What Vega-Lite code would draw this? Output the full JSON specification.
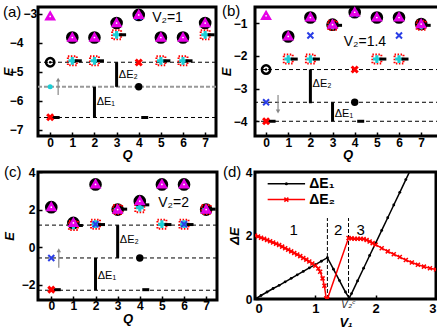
{
"$schema":"https://vega.github.io/schema/vega-lite/v6.json",
"background":"white",
"padding":{"left":0,"top":2,"right":0,"bottom":0},
"bounds":"flush",
"columns":2,
"spacing":{"row":36,"column":38},
"config":{
 "view":{"stroke":"black","strokeWidth":3},
 "point":{"opacity":1},
 "axis":{"domain":false,"grid":false,"labelOverlap":false,"tickColor":"black","tickSize":-4,"tickWidth":1.5,"labelFont":"Liberation Sans","labelFontWeight":"bold","labelFontSize":12,"labelColor":"black","titleFont":"Liberation Sans","titleFontWeight":"bold","titleFontStyle":"italic","titleFontSize":13,"titleColor":"black"},
 "text":{"font":"Liberation Sans","color":"black"},
 "title":{"font":"Liberation Sans","fontWeight":"normal","fontSize":15,"color":"black","offset":0}
},
"datasets":{
"a":[
{"k":"line","E":-4.67},{"k":"gline","E":-5.52},{"k":"line","E":-6.58},
{"k":"bar","Q":2,"E":-6.58,"E2":-5.52},{"k":"bar","Q":3,"E":-5.52,"E2":-4.67},
{"k":"arrow","Q":0.36,"E":-5.8,"E2":-5.3},{"k":"up","Q":0.36,"E":-5.27},
{"k":"lab","Q":2.1,"E":-6.05,"t":"ΔE₁"},{"k":"lab","Q":3.1,"E":-5.1,"t":"ΔE₂"},
{"k":"vt","Q":5.3,"E":-3.15,"t":"V₂=1"},
{"k":"circ","Q":1,"E":-3.78},{"k":"circ","Q":2,"E":-3.78},{"k":"circ","Q":3,"E":-3.28},{"k":"circ","Q":4,"E":-3.0},{"k":"circ","Q":5,"E":-3.78},{"k":"circ","Q":6,"E":-3.78},{"k":"circ","Q":7,"E":-3.28},
{"k":"tri","Q":0,"E":-3.05},{"k":"tri","Q":1,"E":-3.78},{"k":"tri","Q":2,"E":-3.78},{"k":"tri","Q":3,"E":-3.28},{"k":"tri","Q":4,"E":-3.0},{"k":"tri","Q":5,"E":-3.78},{"k":"tri","Q":6,"E":-3.78},{"k":"tri","Q":7,"E":-3.28},
{"k":"ocirc","Q":0,"E":-4.67},
{"k":"pc","Q":1,"E":-4.62},{"k":"pc","Q":2,"E":-4.62},{"k":"pc","Q":5,"E":-4.62},{"k":"pc","Q":6,"E":-4.62},{"k":"pc","Q":3,"E":-3.72},{"k":"pc","Q":7,"E":-3.72},
{"k":"dash","Q":0,"E":-6.58},{"k":"dash","Q":4,"E":-6.58},{"k":"dash","Q":1,"E":-4.62},{"k":"dash","Q":2,"E":-4.62},{"k":"dash","Q":5,"E":-4.62},{"k":"dash","Q":6,"E":-4.62},{"k":"dash","Q":3,"E":-3.72},{"k":"dash","Q":7,"E":-3.72},
{"k":"rx","Q":0,"E":-6.57},{"k":"rx","Q":4,"E":-4.68},
{"k":"bx","Q":4,"E":-3.1},
{"k":"bdot","Q":4,"E":-5.52},
{"k":"cdot","Q":0,"E":-5.52}
],
"b":[
{"k":"line","E":-2.42},{"k":"line","E":-3.42},{"k":"line","E":-4.0},
{"k":"bar","Q":2,"E":-3.45,"E2":-2.42},{"k":"bar","Q":3,"E":-4.0,"E2":-3.42},
{"k":"arrow","Q":0.54,"E":-3.2,"E2":-3.68},{"k":"down","Q":0.54,"E":-3.7},
{"k":"lab","Q":2.1,"E":-2.85,"t":"ΔE₂"},{"k":"lab","Q":3.1,"E":-3.78,"t":"ΔE₁"},
{"k":"vt","Q":4.46,"E":-1.59,"t":"V₂=1.4"},
{"k":"circ","Q":1,"E":-1.38},{"k":"circ","Q":2,"E":-0.8},{"k":"circ","Q":3,"E":-1.02},{"k":"circ","Q":4,"E":-0.64},{"k":"circ","Q":5,"E":-0.8},{"k":"circ","Q":6,"E":-0.8},{"k":"circ","Q":7,"E":-1.0},
{"k":"pc","Q":1,"E":-2.1},{"k":"pc","Q":2,"E":-2.1},{"k":"pc","Q":5,"E":-2.1},{"k":"pc","Q":6,"E":-2.1},{"k":"pc","Q":3,"E":-1.07},{"k":"pc","Q":7,"E":-1.07},
{"k":"dash","Q":1,"E":-2.1},{"k":"dash","Q":2,"E":-2.1},{"k":"dash","Q":5,"E":-2.1},{"k":"dash","Q":6,"E":-2.1},{"k":"dash","Q":3,"E":-1.07},{"k":"dash","Q":7,"E":-1.07},{"k":"dash","Q":0,"E":-4.0},{"k":"dash","Q":4,"E":-4.0},
{"k":"ocirc","Q":0,"E":-2.42},
{"k":"rx","Q":0,"E":-4.0},{"k":"rx","Q":4,"E":-2.42},
{"k":"bx","Q":0,"E":-3.42},{"k":"bx","Q":2,"E":-1.38},{"k":"bx","Q":6,"E":-1.38},{"k":"bx","Q":4,"E":-0.72},
{"k":"tri","Q":0,"E":-0.75},{"k":"tri","Q":1,"E":-1.38},{"k":"tri","Q":2,"E":-0.8},{"k":"tri","Q":3,"E":-1.02},{"k":"tri","Q":4,"E":-0.64},{"k":"tri","Q":5,"E":-0.8},{"k":"tri","Q":6,"E":-0.8},{"k":"tri","Q":7,"E":-1.0},
{"k":"bdot","Q":4,"E":-3.42}
],
"c":[
{"k":"line","E":1.17},{"k":"line","E":-0.58},{"k":"line","E":-2.3},
{"k":"bar","Q":2,"E":-2.3,"E2":-0.58},{"k":"bar","Q":3,"E":-0.58,"E2":1.17},
{"k":"arrow","Q":0.34,"E":-1.1,"E2":-0.2},{"k":"up","Q":0.34,"E":-0.17},
{"k":"lab","Q":3.1,"E":0.4,"t":"ΔE₂"},{"k":"lab","Q":2.1,"E":-1.55,"t":"ΔE₁"},
{"k":"vt","Q":5.53,"E":2.36,"t":"V₂=2"},
{"k":"circ","Q":0,"E":2.18},{"k":"circ","Q":1,"E":1.34},{"k":"circ","Q":2,"E":3.39},{"k":"circ","Q":3,"E":2.05},{"k":"circ","Q":4,"E":2.5},{"k":"circ","Q":5,"E":3.39},{"k":"circ","Q":6,"E":3.39},{"k":"circ","Q":7,"E":2.05},
{"k":"pc","Q":1,"E":1.15},{"k":"pc","Q":2,"E":1.22},{"k":"pc","Q":4,"E":2.1},{"k":"pc","Q":5,"E":1.22},{"k":"pc","Q":6,"E":1.22},{"k":"pc","Q":3,"E":2.0},{"k":"pc","Q":7,"E":2.0},
{"k":"dash","Q":1,"E":1.15},{"k":"dash","Q":2,"E":1.2},{"k":"dash","Q":5,"E":1.2},{"k":"dash","Q":6,"E":1.2},{"k":"dash","Q":3,"E":2.02},{"k":"dash","Q":7,"E":2.02},{"k":"dash","Q":0,"E":-2.27},{"k":"dash","Q":4,"E":-2.27},{"k":"dash","Q":4,"E":2.25},
{"k":"rx","Q":0,"E":-2.27},
{"k":"bx","Q":0,"E":-0.58},{"k":"bx","Q":2,"E":1.22},{"k":"bx","Q":6,"E":1.22},
{"k":"tri","Q":0,"E":2.18},{"k":"tri","Q":1,"E":1.34},{"k":"tri","Q":2,"E":3.39},{"k":"tri","Q":3,"E":2.05},{"k":"tri","Q":4,"E":2.5},{"k":"tri","Q":5,"E":3.39},{"k":"tri","Q":6,"E":3.39},{"k":"tri","Q":7,"E":2.05},
{"k":"bdot","Q":4,"E":-0.58}
],
"d":[
{"s":"ΔE₁","V":0,"D":0},{"s":"ΔE₁","V":0.1,"D":0.11},{"s":"ΔE₁","V":0.2,"D":0.22},{"s":"ΔE₁","V":0.3,"D":0.33},{"s":"ΔE₁","V":0.4,"D":0.43},{"s":"ΔE₁","V":0.5,"D":0.54},{"s":"ΔE₁","V":0.6,"D":0.65},{"s":"ΔE₁","V":0.7,"D":0.76},{"s":"ΔE₁","V":0.8,"D":0.87},{"s":"ΔE₁","V":0.9,"D":0.98},{"s":"ΔE₁","V":1.0,"D":1.08},{"s":"ΔE₁","V":1.1,"D":1.19},{"s":"ΔE₁","V":1.2,"D":1.3},{"s":"ΔE₁","V":1.3,"D":0.94},{"s":"ΔE₁","V":1.4,"D":0.58},{"s":"ΔE₁","V":1.5,"D":0.22},{"s":"ΔE₁","V":1.56,"D":0.03},{"s":"ΔE₁","V":1.6,"D":0.17},{"s":"ΔE₁","V":1.7,"D":0.57},{"s":"ΔE₁","V":1.8,"D":0.97},{"s":"ΔE₁","V":1.9,"D":1.37},{"s":"ΔE₁","V":2.0,"D":1.76},{"s":"ΔE₁","V":2.1,"D":2.16},{"s":"ΔE₁","V":2.2,"D":2.56},{"s":"ΔE₁","V":2.3,"D":2.96},{"s":"ΔE₁","V":2.4,"D":3.36},{"s":"ΔE₁","V":2.5,"D":3.76},{"s":"ΔE₁","V":2.6,"D":4.16},
{"s":"ΔE₂","V":0,"D":2.0},{"s":"ΔE₂","V":0.05,"D":1.97},{"s":"ΔE₂","V":0.1,"D":1.93},{"s":"ΔE₂","V":0.15,"D":1.9},{"s":"ΔE₂","V":0.2,"D":1.86},{"s":"ΔE₂","V":0.25,"D":1.82},{"s":"ΔE₂","V":0.3,"D":1.78},{"s":"ΔE₂","V":0.35,"D":1.74},{"s":"ΔE₂","V":0.4,"D":1.7},{"s":"ΔE₂","V":0.45,"D":1.65},{"s":"ΔE₂","V":0.5,"D":1.6},{"s":"ΔE₂","V":0.55,"D":1.55},{"s":"ΔE₂","V":0.6,"D":1.5},{"s":"ΔE₂","V":0.65,"D":1.45},{"s":"ΔE₂","V":0.7,"D":1.4},{"s":"ΔE₂","V":0.75,"D":1.35},{"s":"ΔE₂","V":0.8,"D":1.29},{"s":"ΔE₂","V":0.85,"D":1.24},{"s":"ΔE₂","V":0.9,"D":1.18},{"s":"ΔE₂","V":0.95,"D":1.12},{"s":"ΔE₂","V":1.0,"D":1.05},{"s":"ΔE₂","V":1.05,"D":0.96},{"s":"ΔE₂","V":1.08,"D":0.86},{"s":"ΔE₂","V":1.12,"D":0.65},{"s":"ΔE₂","V":1.15,"D":0.42},{"s":"ΔE₂","V":1.18,"D":0.02},{"s":"ΔE₂","V":1.2,"D":0.0},{"s":"ΔE₂","V":1.55,"D":1.92},{"s":"ΔE₂","V":1.6,"D":1.91},{"s":"ΔE₂","V":1.65,"D":1.9},{"s":"ΔE₂","V":1.7,"D":1.9},{"s":"ΔE₂","V":1.75,"D":1.9},{"s":"ΔE₂","V":1.8,"D":1.89},{"s":"ΔE₂","V":1.85,"D":1.86},{"s":"ΔE₂","V":1.9,"D":1.81},{"s":"ΔE₂","V":1.95,"D":1.76},{"s":"ΔE₂","V":2.0,"D":1.71},{"s":"ΔE₂","V":2.1,"D":1.6},{"s":"ΔE₂","V":2.2,"D":1.5},{"s":"ΔE₂","V":2.3,"D":1.41},{"s":"ΔE₂","V":2.4,"D":1.32},{"s":"ΔE₂","V":2.5,"D":1.23},{"s":"ΔE₂","V":2.6,"D":1.15},{"s":"ΔE₂","V":2.7,"D":1.08},{"s":"ΔE₂","V":2.8,"D":1.02},{"s":"ΔE₂","V":2.9,"D":0.97},{"s":"ΔE₂","V":3.0,"D":0.93}
],
"dann":[
{"k":"vl","V":1.2,"D":0,"D2":2.55},{"k":"vl","V":1.55,"D":0,"D2":2.55},
{"k":"lab","V":0.64,"D":2.16,"t":"1"},{"k":"lab","V":1.38,"D":2.16,"t":"2"},{"k":"lab","V":1.75,"D":2.16,"t":"3"},
{"k":"vc","V":1.55,"D":-0.2,"t":"V₂ᶜ"},
{"k":"leg1","V":0.21,"V2":0.83,"D":3.63},{"k":"leg2","V":0.21,"V2":0.83,"D":3.13},
{"k":"legt","V":0.9,"D":3.63,"t":"ΔE₁"},{"k":"legt","V":0.9,"D":3.13,"t":"ΔE₂"},
{"k":"legm1","V":0.52,"D":3.63},{"k":"legm2","V":0.52,"D":3.13}
]
},
"concat":[
{"width":178,"height":129,
 "title":{"text":"(a)","anchor":"start","frame":"group","dx":-35,"dy":17},
 "data":{"name":"a"},
 "encoding":{"y":{"field":"E","type":"quantitative","scale":{"domain":[-7.22,-2.76],"nice":false,"zero":false},"axis":{"values":[-7,-6,-5,-4,-3],"title":"E","labelPadding":19,"titlePadding":-6,"labelAlign":{"condition":{"test":"datum.value == -3","value":"left"},"value":"right"}}}},
 "layer":[
  {"transform":[{"filter":"datum.k=='line'"}],"mark":{"type":"rule","strokeDash":[4,3],"stroke":"black","strokeWidth":1},"encoding":{}},
  {"transform":[{"filter":"datum.k=='gline'"}],"mark":{"type":"rule","strokeDash":[4,2],"stroke":"#999","strokeWidth":2},"encoding":{}},
  {"transform":[{"filter":"datum.k=='bar'"}],"mark":{"type":"rule","stroke":"black","strokeWidth":3},"encoding":{"x":{"field":"Q","type":"quantitative","scale":{"domain":[-0.55,7.49],"nice":false,"zero":false},"axis":{"values":[0,1,2,3,4,5,6,7],"title":"Q","labelPadding":5,"titlePadding":0}},"y2":{"field":"E2"}}},
  {"transform":[{"filter":"datum.k=='arrow'"}],"mark":{"type":"rule","stroke":"#888","strokeWidth":1.2},"encoding":{"x":{"field":"Q","type":"quantitative","scale":{"domain":[-0.55,7.49],"nice":false,"zero":false},"axis":{"values":[0,1,2,3,4,5,6,7],"title":"Q","labelPadding":5,"titlePadding":0}},"y2":{"field":"E2"}}},
  {"transform":[{"filter":"datum.k=='up'"}],"mark":{"type":"point","shape":"triangle-up","filled":true,"fill":"#888","size":20},"encoding":{"x":{"field":"Q","type":"quantitative","scale":{"domain":[-0.55,7.49],"nice":false,"zero":false},"axis":{"values":[0,1,2,3,4,5,6,7],"title":"Q","labelPadding":5,"titlePadding":0}}}},
  {"transform":[{"filter":"datum.k=='lab'"}],"mark":{"type":"text","align":"left","baseline":"middle","fontSize":11},"encoding":{"x":{"field":"Q","type":"quantitative","scale":{"domain":[-0.55,7.49],"nice":false,"zero":false},"axis":{"values":[0,1,2,3,4,5,6,7],"title":"Q","labelPadding":5,"titlePadding":0}},"text":{"field":"t"}}},
  {"transform":[{"filter":"datum.k=='circ'"}],"mark":{"type":"point","shape":"circle","filled":true,"fill":"black","size":160,"yOffset":1},"encoding":{"x":{"field":"Q","type":"quantitative","scale":{"domain":[-0.55,7.49],"nice":false,"zero":false},"axis":{"values":[0,1,2,3,4,5,6,7],"title":"Q","labelPadding":5,"titlePadding":0}}}},
  {"transform":[{"filter":"datum.k=='ocirc'"}],"mark":{"type":"point","shape":"circle","filled":false,"stroke":"black","strokeWidth":2.5,"size":70},"encoding":{"x":{"field":"Q","type":"quantitative","scale":{"domain":[-0.55,7.49],"nice":false,"zero":false},"axis":{"values":[0,1,2,3,4,5,6,7],"title":"Q","labelPadding":5,"titlePadding":0}}}},
  {"transform":[{"filter":"datum.k=='ocirc'"}],"mark":{"type":"point","shape":"circle","filled":true,"fill":"black","size":6},"encoding":{"x":{"field":"Q","type":"quantitative","scale":{"domain":[-0.55,7.49],"nice":false,"zero":false},"axis":{"values":[0,1,2,3,4,5,6,7],"title":"Q","labelPadding":5,"titlePadding":0}}}},
  {"transform":[{"filter":"datum.k=='pc'"}],"mark":{"type":"point","shape":"square","filled":false,"stroke":"red","strokeWidth":2,"strokeDash":[1.5,1.5],"size":80},"encoding":{"x":{"field":"Q","type":"quantitative","scale":{"domain":[-0.55,7.49],"nice":false,"zero":false},"axis":{"values":[0,1,2,3,4,5,6,7],"title":"Q","labelPadding":5,"titlePadding":0}}}},
  {"transform":[{"filter":"datum.k=='pc'"}],"mark":{"type":"point","shape":"cross","filled":true,"fill":"#1ccfd6","size":60},"encoding":{"x":{"field":"Q","type":"quantitative","scale":{"domain":[-0.55,7.49],"nice":false,"zero":false},"axis":{"values":[0,1,2,3,4,5,6,7],"title":"Q","labelPadding":5,"titlePadding":0}}}},
  {"transform":[{"filter":"datum.k=='dash'"}],"mark":{"type":"point","shape":"M-1,0L1,0","filled":false,"stroke":"black","strokeWidth":3,"size":49,"xOffset":6},"encoding":{"x":{"field":"Q","type":"quantitative","scale":{"domain":[-0.55,7.49],"nice":false,"zero":false},"axis":{"values":[0,1,2,3,4,5,6,7],"title":"Q","labelPadding":5,"titlePadding":0}}}},
  {"transform":[{"filter":"datum.k=='rx'"}],"mark":{"type":"point","shape":"M-1,-1L1,1M1,-1L-1,1","filled":false,"stroke":"red","strokeWidth":3,"size":36},"encoding":{"x":{"field":"Q","type":"quantitative","scale":{"domain":[-0.55,7.49],"nice":false,"zero":false},"axis":{"values":[0,1,2,3,4,5,6,7],"title":"Q","labelPadding":5,"titlePadding":0}}}},
  {"transform":[{"filter":"datum.k=='bx'"}],"mark":{"type":"point","shape":"M-1,-1L1,1M1,-1L-1,1","filled":false,"stroke":"#2a3ee6","strokeWidth":2,"size":36},"encoding":{"x":{"field":"Q","type":"quantitative","scale":{"domain":[-0.55,7.49],"nice":false,"zero":false},"axis":{"values":[0,1,2,3,4,5,6,7],"title":"Q","labelPadding":5,"titlePadding":0}}}},
  {"transform":[{"filter":"datum.k=='tri'"}],"mark":{"type":"point","shape":"triangle-up","filled":true,"fill":"#e600e6","size":140},"encoding":{"x":{"field":"Q","type":"quantitative","scale":{"domain":[-0.55,7.49],"nice":false,"zero":false},"axis":{"values":[0,1,2,3,4,5,6,7],"title":"Q","labelPadding":5,"titlePadding":0}}}},
  {"transform":[{"filter":"datum.k=='tri'"}],"mark":{"type":"point","shape":"circle","filled":true,"fill":"white","size":3,"yOffset":1},"encoding":{"x":{"field":"Q","type":"quantitative","scale":{"domain":[-0.55,7.49],"nice":false,"zero":false},"axis":{"values":[0,1,2,3,4,5,6,7],"title":"Q","labelPadding":5,"titlePadding":0}}}},
  {"transform":[{"filter":"datum.k=='bdot'"}],"mark":{"type":"point","shape":"circle","filled":true,"fill":"black","size":55},"encoding":{"x":{"field":"Q","type":"quantitative","scale":{"domain":[-0.55,7.49],"nice":false,"zero":false},"axis":{"values":[0,1,2,3,4,5,6,7],"title":"Q","labelPadding":5,"titlePadding":0}}}},
  {"transform":[{"filter":"datum.k=='cdot'"}],"mark":{"type":"point","shape":"circle","filled":true,"fill":"#1ccfd6","size":25},"encoding":{"x":{"field":"Q","type":"quantitative","scale":{"domain":[-0.55,7.49],"nice":false,"zero":false},"axis":{"values":[0,1,2,3,4,5,6,7],"title":"Q","labelPadding":5,"titlePadding":0}}}},
  {"transform":[{"filter":"datum.k=='vt'"}],"mark":{"type":"text","align":"center","baseline":"middle","fontSize":14},"encoding":{"x":{"field":"Q","type":"quantitative","scale":{"domain":[-0.55,7.49],"nice":false,"zero":false},"axis":{"values":[0,1,2,3,4,5,6,7],"title":"Q","labelPadding":5,"titlePadding":0}},"text":{"field":"t"}}}
 ]},
{"width":185,"height":129,
 "title":{"text":"(b)","anchor":"start","frame":"group","dx":-33,"dy":17},
 "data":{"name":"b"},
 "encoding":{"y":{"field":"E","type":"quantitative","scale":{"domain":[-4.45,-0.51],"nice":false,"zero":false},"axis":{"values":[-4,-3,-2,-1],"title":"E","labelPadding":12,"titlePadding":0}}},
 "layer":[
  {"transform":[{"filter":"datum.k=='line'"}],"mark":{"type":"rule","strokeDash":[4,3],"stroke":"black","strokeWidth":1},"encoding":{}},
  {"transform":[{"filter":"datum.k=='bar'"}],"mark":{"type":"rule","stroke":"black","strokeWidth":3},"encoding":{"x":{"field":"Q","type":"quantitative","scale":{"domain":[-0.5,7.85],"nice":false,"zero":false},"axis":{"values":[0,1,2,3,4,5,6,7],"title":"Q","labelPadding":5,"titlePadding":0}},"y2":{"field":"E2"}}},
  {"transform":[{"filter":"datum.k=='arrow'"}],"mark":{"type":"rule","stroke":"#888","strokeWidth":1.2},"encoding":{"x":{"field":"Q","type":"quantitative","scale":{"domain":[-0.5,7.85],"nice":false,"zero":false},"axis":{"values":[0,1,2,3,4,5,6,7],"title":"Q","labelPadding":5,"titlePadding":0}},"y2":{"field":"E2"}}},
  {"transform":[{"filter":"datum.k=='down'"}],"mark":{"type":"point","shape":"triangle-down","filled":true,"fill":"#888","size":20},"encoding":{"x":{"field":"Q","type":"quantitative","scale":{"domain":[-0.5,7.85],"nice":false,"zero":false},"axis":{"values":[0,1,2,3,4,5,6,7],"title":"Q","labelPadding":5,"titlePadding":0}}}},
  {"transform":[{"filter":"datum.k=='lab'"}],"mark":{"type":"text","align":"left","baseline":"middle","fontSize":11},"encoding":{"x":{"field":"Q","type":"quantitative","scale":{"domain":[-0.5,7.85],"nice":false,"zero":false},"axis":{"values":[0,1,2,3,4,5,6,7],"title":"Q","labelPadding":5,"titlePadding":0}},"text":{"field":"t"}}},
  {"transform":[{"filter":"datum.k=='circ'"}],"mark":{"type":"point","shape":"circle","filled":true,"fill":"black","size":160,"yOffset":1},"encoding":{"x":{"field":"Q","type":"quantitative","scale":{"domain":[-0.5,7.85],"nice":false,"zero":false},"axis":{"values":[0,1,2,3,4,5,6,7],"title":"Q","labelPadding":5,"titlePadding":0}}}},
  {"transform":[{"filter":"datum.k=='ocirc'"}],"mark":{"type":"point","shape":"circle","filled":false,"stroke":"black","strokeWidth":2.5,"size":70},"encoding":{"x":{"field":"Q","type":"quantitative","scale":{"domain":[-0.5,7.85],"nice":false,"zero":false},"axis":{"values":[0,1,2,3,4,5,6,7],"title":"Q","labelPadding":5,"titlePadding":0}}}},
  {"transform":[{"filter":"datum.k=='ocirc'"}],"mark":{"type":"point","shape":"circle","filled":true,"fill":"black","size":6},"encoding":{"x":{"field":"Q","type":"quantitative","scale":{"domain":[-0.5,7.85],"nice":false,"zero":false},"axis":{"values":[0,1,2,3,4,5,6,7],"title":"Q","labelPadding":5,"titlePadding":0}}}},
  {"transform":[{"filter":"datum.k=='pc'"}],"mark":{"type":"point","shape":"square","filled":false,"stroke":"red","strokeWidth":2,"strokeDash":[1.5,1.5],"size":80},"encoding":{"x":{"field":"Q","type":"quantitative","scale":{"domain":[-0.5,7.85],"nice":false,"zero":false},"axis":{"values":[0,1,2,3,4,5,6,7],"title":"Q","labelPadding":5,"titlePadding":0}}}},
  {"transform":[{"filter":"datum.k=='pc'"}],"mark":{"type":"point","shape":"cross","filled":true,"fill":"#1ccfd6","size":60},"encoding":{"x":{"field":"Q","type":"quantitative","scale":{"domain":[-0.5,7.85],"nice":false,"zero":false},"axis":{"values":[0,1,2,3,4,5,6,7],"title":"Q","labelPadding":5,"titlePadding":0}}}},
  {"transform":[{"filter":"datum.k=='dash'"}],"mark":{"type":"point","shape":"M-1,0L1,0","filled":false,"stroke":"black","strokeWidth":3,"size":49,"xOffset":6},"encoding":{"x":{"field":"Q","type":"quantitative","scale":{"domain":[-0.5,7.85],"nice":false,"zero":false},"axis":{"values":[0,1,2,3,4,5,6,7],"title":"Q","labelPadding":5,"titlePadding":0}}}},
  {"transform":[{"filter":"datum.k=='rx'"}],"mark":{"type":"point","shape":"M-1,-1L1,1M1,-1L-1,1","filled":false,"stroke":"red","strokeWidth":3,"size":36},"encoding":{"x":{"field":"Q","type":"quantitative","scale":{"domain":[-0.5,7.85],"nice":false,"zero":false},"axis":{"values":[0,1,2,3,4,5,6,7],"title":"Q","labelPadding":5,"titlePadding":0}}}},
  {"transform":[{"filter":"datum.k=='bx'"}],"mark":{"type":"point","shape":"M-1,-1L1,1M1,-1L-1,1","filled":false,"stroke":"#2a3ee6","strokeWidth":2,"size":36},"encoding":{"x":{"field":"Q","type":"quantitative","scale":{"domain":[-0.5,7.85],"nice":false,"zero":false},"axis":{"values":[0,1,2,3,4,5,6,7],"title":"Q","labelPadding":5,"titlePadding":0}}}},
  {"transform":[{"filter":"datum.k=='tri'"}],"mark":{"type":"point","shape":"triangle-up","filled":true,"fill":"#e600e6","size":140},"encoding":{"x":{"field":"Q","type":"quantitative","scale":{"domain":[-0.5,7.85],"nice":false,"zero":false},"axis":{"values":[0,1,2,3,4,5,6,7],"title":"Q","labelPadding":5,"titlePadding":0}}}},
  {"transform":[{"filter":"datum.k=='tri'"}],"mark":{"type":"point","shape":"circle","filled":true,"fill":"white","size":3,"yOffset":1},"encoding":{"x":{"field":"Q","type":"quantitative","scale":{"domain":[-0.5,7.85],"nice":false,"zero":false},"axis":{"values":[0,1,2,3,4,5,6,7],"title":"Q","labelPadding":5,"titlePadding":0}}}},
  {"transform":[{"filter":"datum.k=='bdot'"}],"mark":{"type":"point","shape":"circle","filled":true,"fill":"black","size":55},"encoding":{"x":{"field":"Q","type":"quantitative","scale":{"domain":[-0.5,7.85],"nice":false,"zero":false},"axis":{"values":[0,1,2,3,4,5,6,7],"title":"Q","labelPadding":5,"titlePadding":0}}}},
  {"transform":[{"filter":"datum.k=='vt'"}],"mark":{"type":"text","align":"center","baseline":"middle","fontSize":14},"encoding":{"x":{"field":"Q","type":"quantitative","scale":{"domain":[-0.5,7.85],"nice":false,"zero":false},"axis":{"values":[0,1,2,3,4,5,6,7],"title":"Q","labelPadding":5,"titlePadding":0}},"text":{"field":"t"}}}
 ]},
{"width":179,"height":128,
 "title":{"text":"(c)","anchor":"start","frame":"group","dx":-34,"dy":18},
 "data":{"name":"c"},
 "encoding":{"y":{"field":"E","type":"quantitative","scale":{"domain":[-2.82,4.0],"nice":false,"zero":false},"axis":{"values":[-2,0,2,4],"title":"E","labelPadding":7,"titlePadding":5}}},
 "layer":[
  {"transform":[{"filter":"datum.k=='line'"}],"mark":{"type":"rule","strokeDash":[4,3],"stroke":"black","strokeWidth":1},"encoding":{}},
  {"transform":[{"filter":"datum.k=='bar'"}],"mark":{"type":"rule","stroke":"black","strokeWidth":3},"encoding":{"x":{"field":"Q","type":"quantitative","scale":{"domain":[-0.6,7.49],"nice":false,"zero":false},"axis":{"values":[0,1,2,3,4,5,6,7],"title":"Q","labelPadding":4,"titlePadding":1}},"y2":{"field":"E2"}}},
  {"transform":[{"filter":"datum.k=='arrow'"}],"mark":{"type":"rule","stroke":"#888","strokeWidth":1.2},"encoding":{"x":{"field":"Q","type":"quantitative","scale":{"domain":[-0.6,7.49],"nice":false,"zero":false},"axis":{"values":[0,1,2,3,4,5,6,7],"title":"Q","labelPadding":4,"titlePadding":1}},"y2":{"field":"E2"}}},
  {"transform":[{"filter":"datum.k=='up'"}],"mark":{"type":"point","shape":"triangle-up","filled":true,"fill":"#888","size":20},"encoding":{"x":{"field":"Q","type":"quantitative","scale":{"domain":[-0.6,7.49],"nice":false,"zero":false},"axis":{"values":[0,1,2,3,4,5,6,7],"title":"Q","labelPadding":4,"titlePadding":1}}}},
  {"transform":[{"filter":"datum.k=='lab'"}],"mark":{"type":"text","align":"left","baseline":"middle","fontSize":11},"encoding":{"x":{"field":"Q","type":"quantitative","scale":{"domain":[-0.6,7.49],"nice":false,"zero":false},"axis":{"values":[0,1,2,3,4,5,6,7],"title":"Q","labelPadding":4,"titlePadding":1}},"text":{"field":"t"}}},
  {"transform":[{"filter":"datum.k=='circ'"}],"mark":{"type":"point","shape":"circle","filled":true,"fill":"black","size":160,"yOffset":1},"encoding":{"x":{"field":"Q","type":"quantitative","scale":{"domain":[-0.6,7.49],"nice":false,"zero":false},"axis":{"values":[0,1,2,3,4,5,6,7],"title":"Q","labelPadding":4,"titlePadding":1}}}},
  {"transform":[{"filter":"datum.k=='pc'"}],"mark":{"type":"point","shape":"square","filled":false,"stroke":"red","strokeWidth":2,"strokeDash":[1.5,1.5],"size":80},"encoding":{"x":{"field":"Q","type":"quantitative","scale":{"domain":[-0.6,7.49],"nice":false,"zero":false},"axis":{"values":[0,1,2,3,4,5,6,7],"title":"Q","labelPadding":4,"titlePadding":1}}}},
  {"transform":[{"filter":"datum.k=='pc'"}],"mark":{"type":"point","shape":"cross","filled":true,"fill":"#1ccfd6","size":60},"encoding":{"x":{"field":"Q","type":"quantitative","scale":{"domain":[-0.6,7.49],"nice":false,"zero":false},"axis":{"values":[0,1,2,3,4,5,6,7],"title":"Q","labelPadding":4,"titlePadding":1}}}},
  {"transform":[{"filter":"datum.k=='dash'"}],"mark":{"type":"point","shape":"M-1,0L1,0","filled":false,"stroke":"black","strokeWidth":3,"size":49,"xOffset":6},"encoding":{"x":{"field":"Q","type":"quantitative","scale":{"domain":[-0.6,7.49],"nice":false,"zero":false},"axis":{"values":[0,1,2,3,4,5,6,7],"title":"Q","labelPadding":4,"titlePadding":1}}}},
  {"transform":[{"filter":"datum.k=='rx'"}],"mark":{"type":"point","shape":"M-1,-1L1,1M1,-1L-1,1","filled":false,"stroke":"red","strokeWidth":3,"size":36},"encoding":{"x":{"field":"Q","type":"quantitative","scale":{"domain":[-0.6,7.49],"nice":false,"zero":false},"axis":{"values":[0,1,2,3,4,5,6,7],"title":"Q","labelPadding":4,"titlePadding":1}}}},
  {"transform":[{"filter":"datum.k=='bx'"}],"mark":{"type":"point","shape":"M-1,-1L1,1M1,-1L-1,1","filled":false,"stroke":"#2a3ee6","strokeWidth":2,"size":36},"encoding":{"x":{"field":"Q","type":"quantitative","scale":{"domain":[-0.6,7.49],"nice":false,"zero":false},"axis":{"values":[0,1,2,3,4,5,6,7],"title":"Q","labelPadding":4,"titlePadding":1}}}},
  {"transform":[{"filter":"datum.k=='tri'"}],"mark":{"type":"point","shape":"triangle-up","filled":true,"fill":"#e600e6","size":140},"encoding":{"x":{"field":"Q","type":"quantitative","scale":{"domain":[-0.6,7.49],"nice":false,"zero":false},"axis":{"values":[0,1,2,3,4,5,6,7],"title":"Q","labelPadding":4,"titlePadding":1}}}},
  {"transform":[{"filter":"datum.k=='tri'"}],"mark":{"type":"point","shape":"circle","filled":true,"fill":"white","size":3,"yOffset":1},"encoding":{"x":{"field":"Q","type":"quantitative","scale":{"domain":[-0.6,7.49],"nice":false,"zero":false},"axis":{"values":[0,1,2,3,4,5,6,7],"title":"Q","labelPadding":4,"titlePadding":1}}}},
  {"transform":[{"filter":"datum.k=='bdot'"}],"mark":{"type":"point","shape":"circle","filled":true,"fill":"black","size":55},"encoding":{"x":{"field":"Q","type":"quantitative","scale":{"domain":[-0.6,7.49],"nice":false,"zero":false},"axis":{"values":[0,1,2,3,4,5,6,7],"title":"Q","labelPadding":4,"titlePadding":1}}}},
  {"transform":[{"filter":"datum.k=='vt'"}],"mark":{"type":"text","align":"center","baseline":"middle","fontSize":14},"encoding":{"x":{"field":"Q","type":"quantitative","scale":{"domain":[-0.6,7.49],"nice":false,"zero":false},"axis":{"values":[0,1,2,3,4,5,6,7],"title":"Q","labelPadding":4,"titlePadding":1}},"text":{"field":"t"}}}
 ]},
{"width":181,"height":127,
 "title":{"text":"(d)","anchor":"start","frame":"group","dx":-32,"dy":18},
 "layer":[
  {"data":{"name":"dann"},"transform":[{"filter":"datum.k=='vl'"}],"mark":{"type":"rule","strokeDash":[4,2],"stroke":"black","strokeWidth":1},"encoding":{"x":{"field":"V","type":"quantitative","scale":{"domain":[0,3],"nice":false,"zero":false},"axis":{"values":[0,0.5,1,1.5,2,2.5,3],"labelExpr":"datum.value % 1 == 0 ? format(datum.value, 'd') : ''","title":"V₁","labelFontSize":13,"labelPadding":7,"titlePadding":1}},"y":{"field":"D","type":"quantitative","scale":{"domain":[0,4],"nice":false,"zero":false},"axis":{"values":[0,0.5,1,1.5,2,2.5,3,3.5,4],"labelExpr":"datum.value % 2 == 0 ? format(datum.value, 'd') : ''","title":"ΔE","labelPadding":7,"titlePadding":4}},"y2":{"field":"D2"}}},
  {"data":{"name":"d"},"mark":{"type":"line","strokeWidth":1.5,"clip":true},"encoding":{"x":{"field":"V","type":"quantitative"},"y":{"field":"D","type":"quantitative"},"color":{"field":"s","type":"nominal","scale":{"domain":["ΔE₁","ΔE₂"],"range":["black","red"]},"legend":null}}},
  {"data":{"name":"d"},"transform":[{"filter":"datum.s=='ΔE₁'"}],"mark":{"type":"point","shape":"circle","filled":true,"fill":"black","size":8,"clip":true},"encoding":{"x":{"field":"V","type":"quantitative"},"y":{"field":"D","type":"quantitative"}}},
  {"data":{"name":"d"},"transform":[{"filter":"datum.s=='ΔE₂'"}],"mark":{"type":"point","shape":"M-1,-1L1,1M1,-1L-1,1","filled":false,"stroke":"red","strokeWidth":1.5,"size":16,"clip":true},"encoding":{"x":{"field":"V","type":"quantitative"},"y":{"field":"D","type":"quantitative"}}},
  {"data":{"name":"dann"},"transform":[{"filter":"datum.k=='leg1'"}],"mark":{"type":"rule","stroke":"black","strokeWidth":1.5},"encoding":{"x":{"field":"V","type":"quantitative"},"x2":{"field":"V2"},"y":{"field":"D","type":"quantitative"}}},
  {"data":{"name":"dann"},"transform":[{"filter":"datum.k=='leg2'"}],"mark":{"type":"rule","stroke":"red","strokeWidth":1.5},"encoding":{"x":{"field":"V","type":"quantitative"},"x2":{"field":"V2"},"y":{"field":"D","type":"quantitative"}}},
  {"data":{"name":"dann"},"transform":[{"filter":"datum.k=='legm1'"}],"mark":{"type":"point","shape":"circle","filled":true,"fill":"black","size":10},"encoding":{"x":{"field":"V","type":"quantitative"},"y":{"field":"D","type":"quantitative"}}},
  {"data":{"name":"dann"},"transform":[{"filter":"datum.k=='legm2'"}],"mark":{"type":"point","shape":"M-1,-1L1,1M1,-1L-1,1","filled":false,"stroke":"red","strokeWidth":1.5,"size":16},"encoding":{"x":{"field":"V","type":"quantitative"},"y":{"field":"D","type":"quantitative"}}},
  {"data":{"name":"dann"},"transform":[{"filter":"datum.k=='legt'"}],"mark":{"type":"text","align":"left","baseline":"middle","fontSize":14,"fontWeight":"bold"},"encoding":{"x":{"field":"V","type":"quantitative"},"y":{"field":"D","type":"quantitative"},"text":{"field":"t"}}},
  {"data":{"name":"dann"},"transform":[{"filter":"datum.k=='lab'"}],"mark":{"type":"text","align":"center","baseline":"middle","fontSize":15},"encoding":{"x":{"field":"V","type":"quantitative"},"y":{"field":"D","type":"quantitative"},"text":{"field":"t"}}},
  {"data":{"name":"dann"},"transform":[{"filter":"datum.k=='vc'"}],"mark":{"type":"text","align":"center","baseline":"middle","fontSize":10,"fontStyle":"italic","font":"DejaVu Sans","color":"#333"},"encoding":{"x":{"field":"V","type":"quantitative"},"y":{"field":"D","type":"quantitative"},"text":{"field":"t"}}}
 ]}
]
}
